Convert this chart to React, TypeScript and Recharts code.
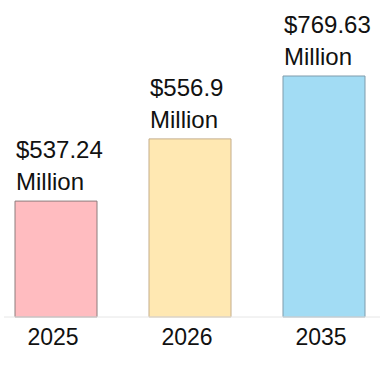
import { BarChart, Bar, XAxis, YAxis, Cell, LabelList } from 'recharts';

const YEARS = ['2025', '2026', '2035'];
const VALUE_LABELS = ['$537.24', '$556.9', '$769.63'];
// bar heights as drawn in the picture (relative, 0-100); the picture isn't to scale
const BAR_LEVELS = [48.1, 73.9, 100];
const FILLS = ['#ffbcc0', '#ffe8b2', '#a2dcf4'];
const STROKES = ['#8c7c7d', '#c4ad8a', '#7f9bab'];

const data = YEARS.map((year, i) => ({ year, level: BAR_LEVELS[i], label: VALUE_LABELS[i] }));

const FONT = '"Liberation Sans", Arial, sans-serif';

function ValueLabel(props: any) {
  const { x, y, index } = props;
  return (
    <g>
      <text x={x + 1} y={y - 43} fontSize={24} fontFamily={FONT} fill="#111">{VALUE_LABELS[index]}</text>
      <text x={x + 1} y={y - 11} fontSize={24} fontFamily={FONT} fill="#111">Million</text>
    </g>
  );
}

export default function App() {
  return (
    <div style={{ position: 'absolute', left: 0, top: 0, width: 384, height: 384, background: '#fff' }}>
      <BarChart width={384} height={384} data={data} margin={{ top: 76, right: 4, bottom: 37, left: 4 }}>
        <XAxis
          dataKey="year"
          padding={{ left: -15, right: -11 }}
          axisLine={{ stroke: '#e6e6e6' }}
          tickLine={false}
          tickMargin={6}
          height={30}
          tick={{ fontSize: 23, fill: '#111', fontFamily: FONT, dx: -3 }}
        />
        <YAxis hide domain={[0, 100]} />
        <Bar dataKey="level" barSize={82} isAnimationActive={false}>
          {data.map((_, i) => <Cell key={i} fill={FILLS[i]} stroke={STROKES[i]} strokeWidth={1} />)}
          <LabelList dataKey="label" content={<ValueLabel />} />
        </Bar>
      </BarChart>
    </div>
  );
}
